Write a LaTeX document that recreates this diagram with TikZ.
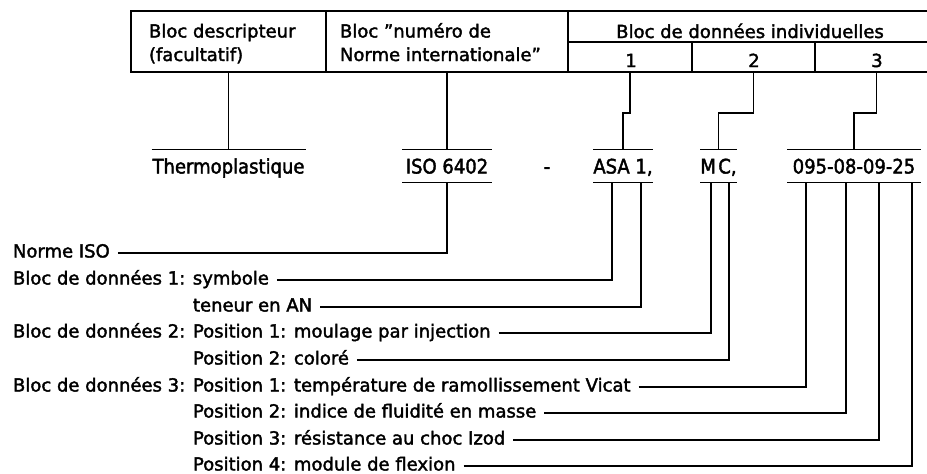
\documentclass[tikz,border=0pt]{standalone}
\usepackage{fontspec}
\setmainfont{DejaVu Sans}[FakeBold=2,BoldFont={DejaVu Sans}]
\newfontfamily\valfont{DejaVu Sans}[FakeStretch=0.9,FakeBold=2]
\begin{document}
\begin{tikzpicture}[x=1pt,y=-1pt,line width=1.8pt,
  every node/.style={inner sep=0pt,outer sep=0pt},
  txt/.style={font=\fontsize{18}{20}\selectfont},
  lbl/.style={txt,anchor=base west},
  cell/.style={draw,line width=1.8pt},
  val/.style={font=\valfont\fontsize{20}{22}\selectfont,minimum height=33pt,text height=15pt,text depth=0pt}]
\useasboundingbox (0,0) rectangle (927,474);
\clip (0,0) rectangle (927,474);
% table
\node[cell,minimum width=195pt,minimum height=61pt] (desc) at (228.5,41.5) {};
\node[cell,minimum width=242pt,minimum height=61pt] (isoblk) at (447,41.5) {};
\node[cell,minimum width=370pt,minimum height=31pt] (indiv) at (753,26.5) {};
\node[cell,minimum width=124pt,minimum height=30pt] (c1) at (630,57) {};
\node[cell,minimum width=123pt,minimum height=30pt] (c2) at (753.5,57) {};
\node[cell,minimum width=123pt,minimum height=30pt] (c3) at (876.5,57) {};
\node[lbl] (d1) at (149,37.5) {Bloc descripteur};
\node[lbl] (d2) at (149,61) {(facultatif)};
\node[lbl] (n1) at (340,37.5) {Bloc ”numéro de};
\node[lbl] (n2) at (340,61) {Norme internationale”};
\node[txt,anchor=base] (ih) at (750,38) {Bloc de données individuelles};
\node[txt,anchor=base] (h1) at (631,67) {1};
\node[txt,anchor=base] (h2) at (754,67) {2};
\node[txt,anchor=base] (h3) at (877,67) {3};
% values
\node[val,minimum width=154pt] (thermo) at (228.5,166) {Thermoplastique};
\node[val,minimum width=90pt] (iso) at (447,166) {ISO 6402};
\node[val] (dash) at (547,166) {-};
\node[val,minimum width=54pt] (asa) at (623,166) {ASA 1,};
\node[val,minimum width=37pt] (mc) at (718.5,166) {M\hspace{0.12em}C,};
\node[val,minimum width=134pt] (num) at (854,166) {095-08-09-25};
\draw (thermo.north west) -- (thermo.north east);
\foreach \n in {iso,asa,mc,num}{
  \draw (\n.north west) -- (\n.north east);
  \draw (\n.south west) -- (\n.south east);
}
% connectors from table
\draw (desc.south) -- (thermo.north);
\draw (isoblk.south) -- (iso.north);
\draw (c1.south) -- ++(0,41) -| (asa.north);
\draw (c2.south) -- ++(0,41) -| (mc.north);
\draw (c3.south) -- ++(0,41) -| (num.north);
% labels
\node[lbl] (l1) at (13,257.5) {Norme ISO};
\node[lbl] (l2) at (13,284.5) {Bloc de données 1: symbole};
\node[lbl] (l3) at (193,311.5) {teneur en AN};
\node[lbl] (l4a) at (13,337.5) {Bloc de données 2:};
\node[lbl] (l4) at (193,337.5) {Position 1: moulage par injection};
\node[lbl] (l5) at (193,364.5) {Position 2: coloré};
\node[lbl] (l6a) at (13,391.5) {Bloc de données 3:};
\node[lbl] (l6) at (193,391.5) {Position 1: température de ramollissement Vicat};
\node[lbl] (l7) at (193,417.5) {Position 2: indice de fluidité en masse};
\node[lbl] (l8) at (193,444.5) {Position 3: résistance au choc Izod};
\node[lbl] (l9) at (193,470.5) {Position 4: module de flexion};
\tikzset{lead/.style={xshift=8pt,yshift=4.5pt}}
\draw ([lead]l1.base east) -| (iso.south);
\draw ([lead]l2.base east) -| ([xshift=19pt]asa.south west);
\draw ([lead]l3.base east) -| ([xshift=48pt]asa.south west);
\draw ([lead]l4.base east) -| ([xshift=11pt]mc.south west);
\draw ([lead]l5.base east) -| ([xshift=29pt]mc.south west);
\draw ([lead]l6.base east) -| ([xshift=19pt]num.south west);
\draw ([lead]l7.base east) -| ([xshift=59pt]num.south west);
\draw ([lead]l8.base east) -| ([xshift=92pt]num.south west);
\draw ([lead]l9.base east) -| ([xshift=125pt]num.south west);
\end{tikzpicture}
\end{document}
